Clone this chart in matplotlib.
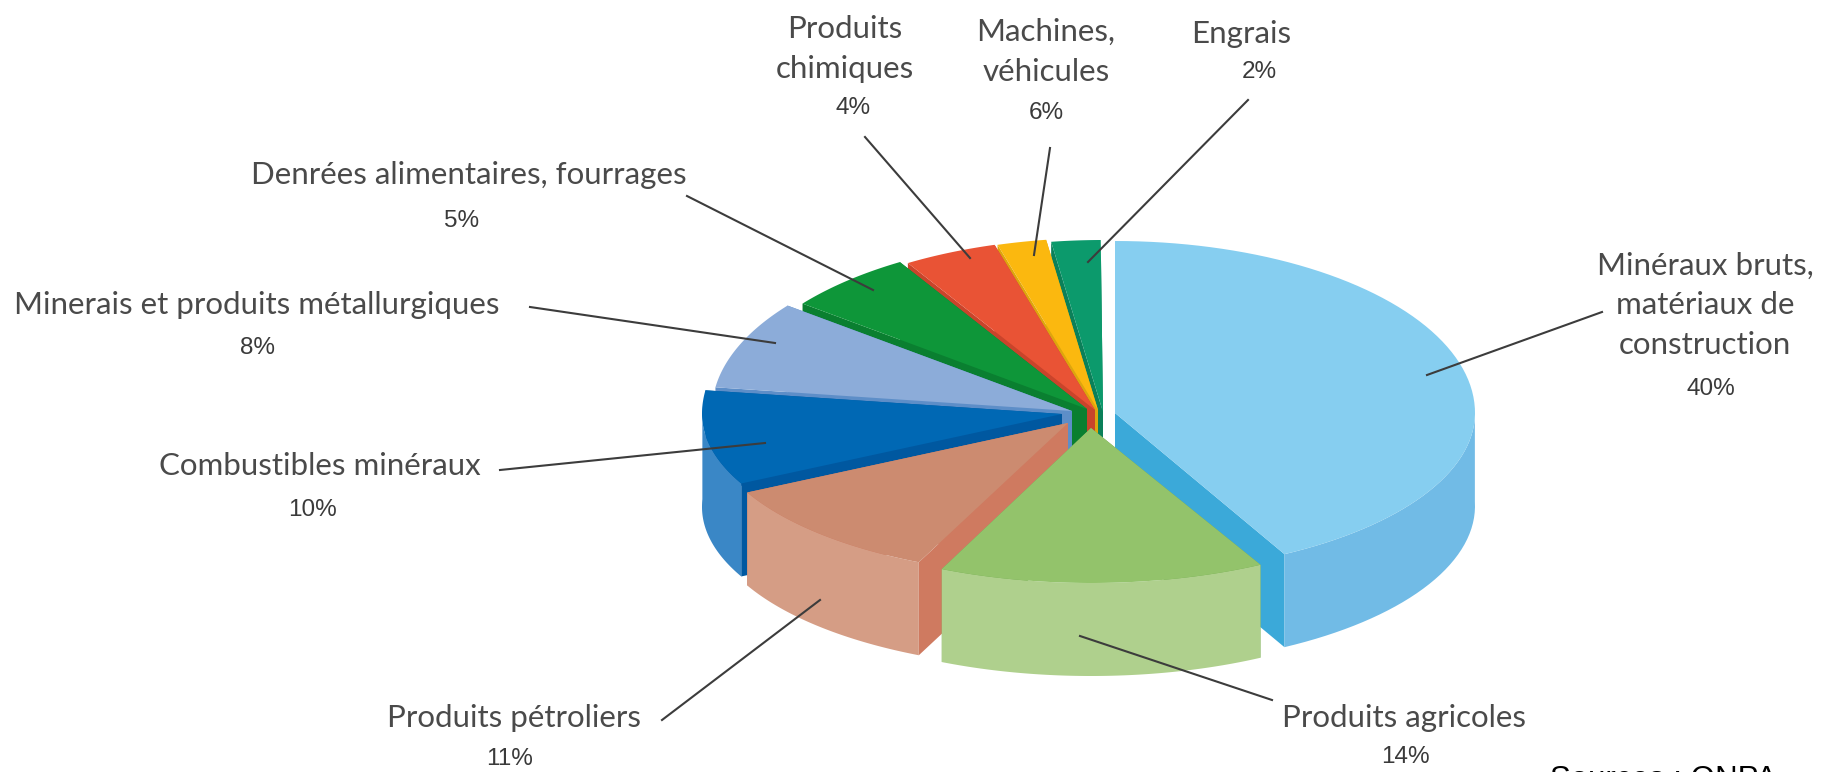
import numpy as np
from matplotlib import pyplot as plt
from matplotlib.patches import Polygon

WIDTH = 1825
HEIGHT = 772

# slices as drawn (percent of the circle), clockwise from twelve o'clock
drawn_shares = [42.2, 14.6, 10.7, 9.7, 8.3, 5.8, 4.2, 2.2, 2.2]
slice_names = [
    "Minéraux bruts,\nmatériaux de\nconstruction",
    "Produits agricoles",
    "Produits pétroliers",
    "Combustibles minéraux",
    "Minerais et produits métallurgiques",
    "Denrées alimentaires, fourrages",
    "Produits\nchimiques",
    "Machines,\nvéhicules",
    "Engrais",
]
slice_percents = ["40%", "14%", "11%", "10%", "8%", "5%", "4%", "6%", "2%"]

top_colors = ["#86cef0", "#93c36b", "#cc8b70", "#0068b4", "#8cacd9",
              "#0e9639", "#e95335", "#fbb80f", "#0c9a6c"]
rim_colors = ["#71bbe6", "#afd08d", "#d59d85", "#3a87c6", "#7a9ac8",
              "#0a7f30", "#c9442b", "#d9a010", "#0a7f5a"]
cut_colors = ["#3ba9d9", "#6fa84e", "#cf7a60", "#0058a0", "#5d8ec8",
              "#0a7f30", "#c9442b", "#dda50e", "#0b8059"]

# slice tips, in pixels
tip_x = [1115, 1091, 1068, 1062, 1072, 1087, 1095, 1098, 1103]
tip_y = [413, 428, 423, 414, 411, 409, 410, 410, 412]

RADIUS_X = 360
RADIUS_Y_BACK = 172
DEPTH = 93
# the front of the drawing is flatter than the back
radius_y_front = [160, 155, 153, 153, 153, 153, 153, 153, 153]

# back to front
draw_order = [8, 7, 6, 5, 4, 3, 2, 0, 1]

# leader lines: label end, slice end
leader_start = [(1602, 312), (1272, 700), (662, 720), (500, 470), (530, 307),
                (687, 196), (865, 137), (1050, 148), (1248, 100)]
leader_end = [(1427, 375), (1080, 636), (820, 600), (765, 443), (775, 343),
              (873, 290), (970, 258), (1034, 255), (1088, 262)]

# text anchors: name centre, percent centre
name_xy = [(1705, 305), (1404, 718), (514, 718), (320, 466), (257, 305),
           (469, 175), (845, 49), (1046, 52), (1241, 34)]
percent_xy = [(1711, 389), (1405, 757), (510, 759), (313, 510), (258, 348),
              (462, 221), (853, 108), (1046, 113), (1259, 72)]


def draw_slice(axis, index, start, end):
    angles = np.radians(np.linspace(start, end, 80))
    cosines = np.cos(angles)
    radius_y = np.where(cosines > 0, RADIUS_Y_BACK, radius_y_front[index])
    x = tip_x[index] + RADIUS_X * np.sin(angles)
    y = tip_y[index] - radius_y * cosines
    tip = (tip_x[index], tip_y[index])

    # the two cut faces
    for edge in (0, -1):
        face = [tip, (x[edge], y[edge]), (x[edge], y[edge] + DEPTH), (tip[0], tip[1] + DEPTH)]
        axis.add_patch(Polygon(face, color=cut_colors[index], lw=0))

    # outer rim, only the part facing the viewer shows
    facing = cosines < 0.05
    if facing.any():
        rim_top = list(zip(x[facing], y[facing]))
        rim_bottom = list(zip(x[facing], y[facing] + DEPTH))
        axis.add_patch(Polygon(rim_top + rim_bottom[::-1], color=rim_colors[index], lw=0))

    top = [tip] + list(zip(x, y))
    axis.add_patch(Polygon(top, color=top_colors[index], lw=0))


def main():
    figure = plt.figure(figsize=(WIDTH / 100, HEIGHT / 100), dpi=100)
    axis = figure.add_axes([0, 0, 1, 1])
    axis.set_xlim(0, WIDTH)
    axis.set_ylim(HEIGHT, 0)
    axis.axis("off")

    edges = np.cumsum([0] + drawn_shares) * 3.6
    for index in draw_order:
        draw_slice(axis, index, edges[index], edges[index + 1])

    for start, end in zip(leader_start, leader_end):
        axis.plot([start[0], end[0]], [start[1], end[1]], color="#3c3c3c", lw=1.5, zorder=5)

    for name, percent, name_pos, percent_pos in zip(slice_names, slice_percents, name_xy, percent_xy):
        axis.text(name_pos[0], name_pos[1], name, family="Lato", fontsize=22.5,
                  color="#4a4a4a", ha="center", va="center", linespacing=1.5)
        axis.text(percent_pos[0], percent_pos[1], percent, family="Liberation Sans", fontsize=17.5,
                  color="#3a3a3a", ha="center", va="center")

    axis.text(1550, 788, "Sources : ONPA", family="Liberation Sans", fontsize=22.5, color="black",
              ha="left", va="baseline", clip_on=True)

    figure.savefig("out.png", dpi=100)


if __name__ == '__main__':
    main()
